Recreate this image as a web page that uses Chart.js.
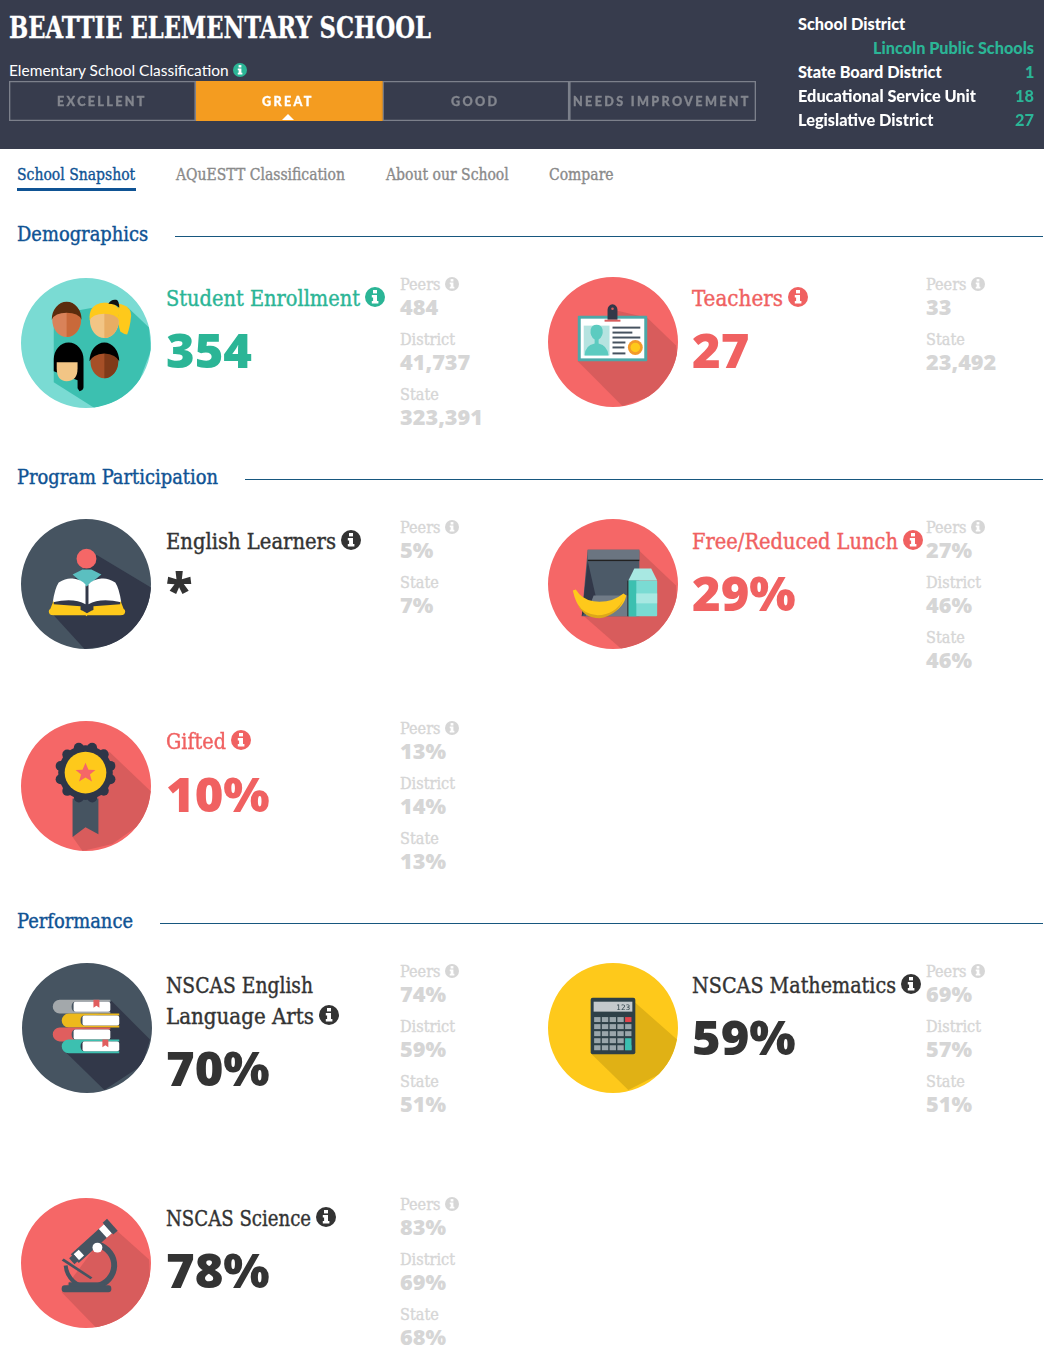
<!DOCTYPE html>
<html>
<head>
<meta charset="utf-8">
<title>Beattie Elementary School</title>
<script src="https://cdn.jsdelivr.net/npm/chart.js@4"></script>
<style>
  html, body { margin: 0; padding: 0; background: #fff; }
  #page { position: relative; width: 1044px; height: 1359px; overflow: hidden; }
  #top { position: absolute; left: 0; top: 0; width: 1044px; height: 149px; background: #373c4d; }
  .t { position: absolute; white-space: nowrap; line-height: 1; transform-origin: 0 50%; }
  .abs { position: absolute; }
</style>
</head>
<body>
<div id="page"><div id="top"></div></div>
<script>
// ---- data ----
const schoolName = 'BEATTIE ELEMENTARY SCHOOL';
const classificationLabel = 'Elementary School Classification';
const classLevels = ['EXCELLENT', 'GREAT', 'GOOD', 'NEEDS IMPROVEMENT'];
const classShares = [1, 1, 1, 1];
const activeLevel = 'GREAT';
const districtLabels = ['State Board District', 'Educational Service Unit', 'Legislative District'];
const districtValues = ['1', '18', '27'];
const districtName = 'Lincoln Public Schools';
const tabs = ['School Snapshot', 'AQuESTT Classification', 'About our School', 'Compare'];
const sections = ['Demographics', 'Program Participation', 'Performance'];

const cardTitles = ['Student Enrollment', 'Teachers', 'English Learners', 'Free/Reduced Lunch', 'Gifted',
  'NSCAS English\nLanguage Arts', 'NSCAS Mathematics', 'NSCAS Science'];
const cardValues = ['354', '27', '*', '29%', '10%', '70%', '59%', '78%'];
const peersValues = ['484', '33', '5%', '27%', '13%', '74%', '69%', '83%'];
const districtStats = ['41,737', null, null, '46%', '14%', '59%', '57%', '69%'];
const stateValues = ['323,391', '23,492', '7%', '46%', '13%', '51%', '51%', '68%'];
const circleShare = [1];

// ---- layout and look ----
const SERIF = '"DejaVu Serif Condensed","DejaVu Serif",serif';
const SANS = '"Open Sans","Noto Sans",sans-serif';
const LATO = 'Lato,"Noto Sans",sans-serif';
const TEAL = '#2bb596', CORAL = '#f06161', DARK = '#333333', PALE = '#d6d6d6', NAVY = '#0f5394';

const styles = {
  school:  { font: SERIF, size: 30, weight: 700, color: '#fff', ref: [schoolName, 422], stroke: 0.3 },
  cls:     { font: LATO, size: 16, weight: 400, color: '#fff', ref: [classificationLabel, 220] },
  side:    { font: LATO, size: 16, weight: 900, color: '#fff', ref: ['Educational Service Unit', 178] },
  sideVal: { font: LATO, size: 16, weight: 900, color: TEAL, ref: [districtName, 161] },
  level:   { font: LATO, size: 14, weight: 900, color: '#83868e', spacing: 2.6, scale: 0.9, stroke: 0.35 },
  tab:     { font: SERIF, size: 16, weight: 400, color: '#8a8a8a', ref: ['AQuESTT Classification', 169], stroke: 0.35 },
  section: { font: SERIF, size: 20, weight: 400, color: NAVY, ref: ['Program Participation', 201], stroke: 0.4 },
  title:   { font: SERIF, size: 23, weight: 400, color: DARK, ref: ['Student Enrollment', 194], stroke: 0.4 },
  value:   { font: SANS, size: 48, weight: 800, color: DARK, ref: ['354', 86] },
  label:   { font: SERIF, size: 16, weight: 400, color: PALE, ref: ['District', 55], stroke: 0.35 },
  stat:    { font: SANS, size: 21, weight: 800, color: PALE, ref: ['323,391', 83] }
};

const cardLayout = [
  { cx: 85.7,  cy: 343.3,  tx: 166, ty: 298,  tw: [194],      vy: 350,  sx: 400, sy: 285,  color: TEAL,  bg: '#7adbd3', shade: '#3cc0b0', icon: 'people' },
  { cx: 613.3, cy: 342.3,  tx: 692, ty: 298,  tw: [91],       vy: 350,  sx: 926, sy: 285,  color: CORAL, bg: '#f56767', shade: '#d85c5c', icon: 'badge' },
  { cx: 86.2,  cy: 584.3,  tx: 166, ty: 541,  tw: [170],      vy: 589,  sx: 400, sy: 528,  color: DARK,  bg: '#465461', shade: '#323849', icon: 'reader' },
  { cx: 612.7, cy: 584.3,  tx: 692, ty: 541,  tw: [206],      vy: 593,  sx: 926, sy: 528,  color: CORAL, bg: '#f56767', shade: '#d85c5c', icon: 'lunch' },
  { cx: 86.2,  cy: 786,    tx: 166, ty: 741,  tw: [60],       vy: 794,  sx: 400, sy: 729,  color: CORAL, bg: '#f56767', shade: '#d85c5c', icon: 'rosette' },
  { cx: 87.2,  cy: 1028.3, tx: 166, ty: 985,  tw: [147, 148], vy: 1068, sx: 400, sy: 972,  color: DARK,  bg: '#465461', shade: '#323849', icon: 'books' },
  { cx: 613,   cy: 1028.3, tx: 692, ty: 985,  tw: [204],      vy: 1037, sx: 926, sy: 972,  color: DARK,  bg: '#fec91b', shade: '#e0b115', icon: 'calculator' },
  { cx: 86,    cy: 1263.3, tx: 166, ty: 1218, tw: [145],      vy: 1270, sx: 400, sy: 1205, color: DARK,  bg: '#f56767', shade: '#d85c5c', icon: 'microscope' }
];

const page = document.getElementById('page');
const measure = document.createElement('canvas').getContext('2d');

function textWidth(str, st) {
  measure.font = `${st.weight} ${st.size}px ${st.font}`;
  return measure.measureText(str).width;
}

// returns the right edge of what was placed
function put(str, x, y, styleName, extra) {
  const st = styles[styleName];
  const o = extra || {};
  let scale = st.scale || 1;
  if (o.width) scale = o.width / textWidth(str, st);
  else if (st.ref) scale = st.ref[1] / textWidth(st.ref[0], st);
  const el = document.createElement('div');
  el.className = 't';
  el.textContent = str;
  el.style.font = `${st.weight} ${st.size}px ${st.font}`;
  el.style.lineHeight = '1';
  el.style.color = o.color || st.color;
  if (st.spacing) el.style.letterSpacing = st.spacing + 'px';
  if (st.stroke) el.style.webkitTextStroke = st.stroke + 'px ' + (o.color || st.color);
  el.style.top = y + 'px';
  el.style.transform = `translateY(-50%) scaleX(${scale})`;
  page.appendChild(el);
  const w = el.offsetWidth * scale;
  el.style.left = (o.right ? x - w : o.center ? x - w / 2 : x) + 'px';
  return x + w;
}

function infoIcon(cx, cy, r, color) {
  const s = document.createElementNS('http://www.w3.org/2000/svg', 'svg');
  s.setAttribute('viewBox', '0 0 20 20');
  s.setAttribute('class', 'abs');
  s.style.cssText = `left:${cx - r}px;top:${cy - r}px;width:${r * 2}px;height:${r * 2}px`;
  s.innerHTML = `<circle cx="10" cy="10" r="10" fill="${color}"/>
    <rect x="8" y="3" width="4" height="3.4" fill="#fff"/>
    <path d="M6.8 8h5.2v6h1.4v2.4H6.8V14h1.3v-3.6H6.8z" fill="#fff"/>`;
  page.appendChild(s);
}

function poly(pts, fill) { return `<polygon points="${pts}" fill="${fill}"/>`; }
function rect(x, y, w, h, fill, rx) { return `<rect x="${x}" y="${y}" width="${w}" height="${h}" fill="${fill}" rx="${rx || 0}"/>`; }
function circ(x, y, r, fill) { return `<circle cx="${x}" cy="${y}" r="${r}" fill="${fill}"/>`; }

function face(x, y, skinL, skinR, hair) {
  return `<ellipse cx="${x}" cy="${y}" rx="14.500" ry="17.500" fill="${skinL}"/>` +
    `<path d="M${x} ${y - 17.5}a14.500 17.500 0 0 1 0 35z" fill="${skinR}"/>` +
    `<path d="M${x - 15} ${y}a15 18 0 0 1 30 0q-3 -7 -15 -7q-12 0 -15 7z" fill="${hair}"/>`;
}

function book(y, x0, x1, color, mark) {
  return `<path d="M${x0 + 6} ${y}H${x1}v2H${x0 + 22}q-4 0 -4 5t4 5H${x1}v2H${x0 + 6}a7 7 0 0 1 0 -14z" fill="${color}"/>` +
    rect(x0 + 20, y + 2, x1 - x0 - 20, 10, '#fff', 2) +
    (mark ? poly(`${x0 + 40},${y} ${x0 + 46},${y} ${x0 + 46},${y + 8} ${x0 + 43},${y + 6} ${x0 + 40},${y + 8}`, '#e05e5e') : '');
}

// flat pictures that sit on the circles, in a 131 x 131 box
const iconArt = {
  people: {
    shadow: '33,37 89,27 108,30 129,50 131,73 113,120 74,131 33,105',
    art: face(46, 42, '#d98259', '#c9693a', '#5b2c0d') +
      `<path d="M98 26q13 2 13 12q-1 11 -4 19q-3 0 -7 -3l-2 -8z" fill="#fec91b"/>` +
      face(84, 43, '#f2c585', '#e8ad63', '#fec91b') +
      `<path d="M69 40q0 -15 17 -15q13 0 14 13q-5 -4 -14 -4q-11 0 -17 6z" fill="#fec91b"/>` +
      `<path d="M88 26q3 -5 8 -4q3 1 3 8q-4 -4 -11 -4z" fill="#111"/>` +
      `<path d="M33 82a15 17 0 0 1 30 0v28q0 3 -4 4l-2 -3v-8l-24 -9z" fill="#000"/>` +
      `<path d="M36 85h21v6q0 13 -11 13q-10 0 -10 -13z" fill="#f2c585"/>` +
      `<ellipse cx="84" cy="84" rx="14" ry="17" fill="#a64f27"/><path d="M84 67a14 17 0 0 1 0 34z" fill="#7f3a19"/>` +
      `<path d="M69 84a15 19 0 0 1 30 0q-3 -7 -15 -8q-12 1 -15 8z" fill="#000"/>`
  },
  badge: {
    shadow: '70,34 100,41 129,69 131,86 107,119 75,130 30,85',
    art: rect(30, 39, 70, 46, '#4da8a8', 1) + rect(33, 42, 64, 40, '#fff') + rect(36, 49, 26, 30, '#b5e3e0') +
      `<path d="M37 79q0 -10 10 -12v-4q-5 -3 -4 -10q1 -5 6 -5t6 5q1 7 -4 10v4q9 2 10 12z" fill="#5ccbc0"/>` +
      rect(65, 50, 28, 2, '#46525f') + rect(65, 55, 20, 2, '#46525f') + rect(65, 60, 28, 2, '#46525f') +
      rect(65, 65, 13, 2, '#46525f') + rect(65, 70, 12, 2, '#46525f') + rect(65, 76, 13, 2, '#46525f') +
      circ(88, 71, 7.5, '#f39a2a') + circ(88, 71, 4.8, '#fec91b') +
      `<path d="M60 43v-10a5 5.5 0 0 1 10 0v10z" fill="#323849"/>` + rect(57, 43, 16, 2, '#d85c5c') + circ(65, 32, 1.3, '#d85c5c')
  },
  reader: {
    shadow: '76,36 131,69 131,92 100,126 64,131 32,96 32,85',
    art: circ(66, 40, 10, '#f56767') + poly('52,56 62,51 71,51 81,56 66,68', '#5bbfc0') +
      `<path d="M32 84q2 -14 6 -20q8 -5 14 -4q9 1 13 6v20q-12 -7 -33 -2z" fill="#fff"/>` +
      `<path d="M101 84q-2 -14 -6 -20q-8 -5 -14 -4q-9 1 -13 6v20q12 -7 33 -2z" fill="#fff"/>` +
      `<path d="M33 82l-4 10h31v-4l-27 -2zM100 82l4 10H73v-4l27 -2z" fill="#fec91b"/>` +
      `<path d="M29 91h29q4 1 8.500 4q4.500 -3 8.500 -4h29q2 2 0 5q-1 1 -4 1H67l-1 1l-1 -1H33q-3 0 -4 -1q-2 -3 0 -5z" fill="#fec91b"/>`
  },
  lunch: {
    shadow: '92,32 129,67 131,99 106,122 74,131 34,96',
    art: poly('40,31 92,31 92,98 34,98', '#4c5a68') + rect(40, 31, 52, 11, '#6b7581') + rect(40, 41, 52, 1.4, '#222') +
      poly('40,42 34,98 49,82', '#323849') + poly('46,77 92,77 92,98 38,98', '#707b87') +
      `<path d="M81 62l6 -12h17l6 12z" fill="#a8e8e2"/>` + rect(81, 62, 29, 36, '#7adbd3', 1) + rect(81, 62, 8, 36, '#3cc0b0') +
      rect(89, 75, 21, 10, '#a8e8e2') + rect(80, 62, 1, 36, '#222') +
      `<path d="M25 72l3 -1q6 10 18 12q18 2 30 -8l3 2q-4 17 -26 22q-22 1 -28 -27z" fill="#fec91b"/>` +
      `<path d="M30 86q6 10 20 11q18 -1 26 -16q-6 16 -24 19q-16 0 -22 -14z" fill="#dca81a"/>`
  },
  rosette: {
    shadow: '89,31 131,71 126,100 92,124 62,131 52,117 52,81',
    art: poly('52,78 78,78 78,114 65,107 52,117', '#465461') +
      Array.from({ length: 12 }, (_, i) => circ(65 + 26 * Math.cos(i * Math.PI / 6 + 0.26), 52 + 26 * Math.sin(i * Math.PI / 6 + 0.26), 5, '#2e3648')).join('') +
      circ(65, 52, 27.5, '#2e3648') + circ(65, 52, 21, '#fec91b') +
      poly('65,42 68,49 75,49.500 69.500,54 71.500,61 65,57 58.500,61 60.500,54 55,49.500 62,49', '#f56767')
  },
  books: {
    shadow: '90,38 129,77 121,103 83,128 41,87',
    art: book(37, 32, 89, '#a3a8ab', true) + book(51, 41, 98, '#edb91c', false) + book(65, 32, 89, '#e05e5e', false) + book(77, 41, 98, '#3cc0b0', true)
  },
  calculator: {
    shadow: '88,40 130,77 122,107 81,128 44,92',
    art: rect(43, 35, 45, 57, '#2e4047', 2) + rect(46, 39, 39, 10, '#c4c9cc') +
      `<text x="83" y="47.500" text-anchor="end" font-family="DejaVu Sans" font-size="7.500" fill="#2e4047">123</text>` +
      Array.from({ length: 25 }, (_, i) => {
        const c = i % 5, r = Math.floor(i / 5);
        const col = (c === 4 && r === 0) ? '#e2434b' : (c === 4 && r >= 3) ? '#3cc0b0' : '#9aa6ab';
        return rect(46.500 + c * 7.8, 54.500 + r * 7.1, 6.400, (c === 4 && r === 3) ? 12 : 5, col);
      }).join('')
  },
  microscope: {
    shadow: '91,28 129,62 131,95 106,122 76,131 41,95',
    art: `<path d="M78 47A24 22 0 0 1 76 89" fill="none" stroke="#465461" stroke-width="6"/>` +
      `<path d="M45 68A24 24 0 0 0 70 90" fill="none" stroke="#465461" stroke-width="4"/>` +
      rect(41, 88, 50, 7, '#465461', 3) + rect(48, 85, 36, 4, '#465461') +
      `<g transform="rotate(-42 72 45)">` + rect(48, 39, 50, 12, '#465461') + rect(86, 39, 7, 12, '#fff') + rect(93, 37, 6, 16, '#465461') + rect(50, 41, 7, 8, '#fff') + rect(44, 41, 6, 8, '#465461') + `</g>` +
      circ(77, 50, 5, '#fff') + `<path d="M41 63l2 -2l29 19l-2 2z" fill="#465461"/>`
  }
};

function drawIcon(item, i, bx, by) {
  const s = document.createElementNS('http://www.w3.org/2000/svg', 'svg');
  s.setAttribute('viewBox', '0 0 131 131');
  s.setAttribute('class', 'abs');
  s.style.cssText = `left:${bx}px;top:${by}px;width:130px;height:130px`;
  const pic = iconArt[item.icon];
  s.innerHTML = `<defs><clipPath id="clip${i}"><circle cx="65.500" cy="65.500" r="65.500"/></clipPath></defs>
    <g clip-path="url(#clip${i})">${poly(pic.shadow, item.shade)}</g>${pic.art}`;
  page.appendChild(s);
}

function drawCircle(item, i) {
  const bx = Math.round(item.cx - 65), by = Math.round(item.cy - 65);
  const cv = document.createElement('canvas');
  cv.width = 130; cv.height = 130;
  cv.className = 'abs';
  cv.style.left = bx + 'px';
  cv.style.top = by + 'px';
  page.appendChild(cv);
  new Chart(cv.getContext('2d'), {
    type: 'pie',
    data: { labels: [cardValues[i]], datasets: [{ data: circleShare, backgroundColor: [item.bg], borderWidth: 0 }] },
    options: {
      responsive: false, animation: false,
      layout: { padding: 0 },
      plugins: { legend: { display: false }, tooltip: { enabled: false } }
    }
  });
  drawIcon(item, i, bx, by);
}

function drawClassBar() {
  const cv = document.createElement('canvas');
  cv.width = 747; cv.height = 40;
  cv.className = 'abs';
  cv.style.left = '9px';
  cv.style.top = '81px';
  page.appendChild(cv);
  new Chart(cv.getContext('2d'), {
    type: 'bar',
    data: {
      labels: ['classification'],
      datasets: classLevels.map((lvl, i) => ({
        label: lvl,
        data: [classShares[i]],
        backgroundColor: lvl === activeLevel ? '#f49c20' : 'rgba(0,0,0,0)',
        borderColor: lvl === activeLevel ? '#f49c20' : '#7c808b',
        borderWidth: 1,
        borderSkipped: false,
        barPercentage: 1,
        categoryPercentage: 1
      }))
    },
    options: {
      indexAxis: 'y', responsive: false, animation: false,
      layout: { padding: 0 },
      scales: {
        x: { stacked: true, display: false, min: 0, max: 4 },
        y: { stacked: true, display: false }
      },
      plugins: { legend: { display: false }, tooltip: { enabled: false } }
    }
  });
}

// ---- header ----
put(schoolName, 9, 28, 'school');
put(classificationLabel, 9, 70, 'cls');
infoIcon(240, 70, 7, TEAL);
drawClassBar();

const levelCenters = [102, 288, 475, 662];
classLevels.forEach((lvl, i) => {
  put(lvl, levelCenters[i], 101, 'level', { center: true, color: lvl === activeLevel ? '#fff' : null });
});
const tip = document.createElement('div');
tip.className = 'abs';
tip.style.cssText = 'left:282px;top:114px;width:0;height:0;border-left:6px solid transparent;border-right:6px solid transparent;border-bottom:6px solid #fff';
page.appendChild(tip);

put('School District', 798, 23.5, 'side');
put(districtName, 1034, 47.5, 'sideVal', { right: true });
districtLabels.forEach((lab, i) => {
  put(lab, 798, 71.5 + i * 24, 'side');
  put(districtValues[i], 1034, 71.5 + i * 24, 'sideVal', { right: true });
});

// ---- tabs ----
const tabX = [17, 176, 386, 549];
tabs.forEach((tab, i) => put(tab, tabX[i], 175, 'tab', { color: i === 0 ? NAVY : null }));
const under = document.createElement('div');
under.className = 'abs';
under.style.cssText = `left:17px;top:188px;width:119px;height:3px;background:${NAVY}`;
page.appendChild(under);

// ---- section headings ----
const sectionY = [234, 477, 921];
const sectionLineY = [236, 479, 923];
sections.forEach((sec, i) => {
  const end = put(sec, 17, sectionY[i], 'section');
  const line = document.createElement('div');
  line.className = 'abs';
  line.style.cssText = `left:${end + 27}px;top:${sectionLineY[i]}px;right:1px;height:1px;background:#17577f`;
  page.appendChild(line);
});

// ---- cards ----
cardLayout.forEach((item, i) => {
  drawCircle(item, i);

  const lines = cardTitles[i].split('\n');
  let end = 0;
  lines.forEach((ln, k) => { end = put(ln, item.tx, item.ty + k * 31, 'title', { color: item.color, width: item.tw[k] }); });
  infoIcon(end + 15, item.ty + (lines.length - 1) * 31 - 1, 10, item.color);
  put(cardValues[i], item.tx, item.vy, 'value', { color: item.color });

  const stats = [['Peers', peersValues[i]], ['District', districtStats[i]], ['State', stateValues[i]]]
    .filter(st => st[1] !== null);
  stats.forEach((st, k) => {
    const y = item.sy + k * 55;
    const labEnd = put(st[0], item.sx, y, 'label');
    if (k === 0) infoIcon(labEnd + 12, y - 1, 7, PALE);
    put(st[1], item.sx, y + 22, 'stat');
  });
});
</script>
</body>
</html>
